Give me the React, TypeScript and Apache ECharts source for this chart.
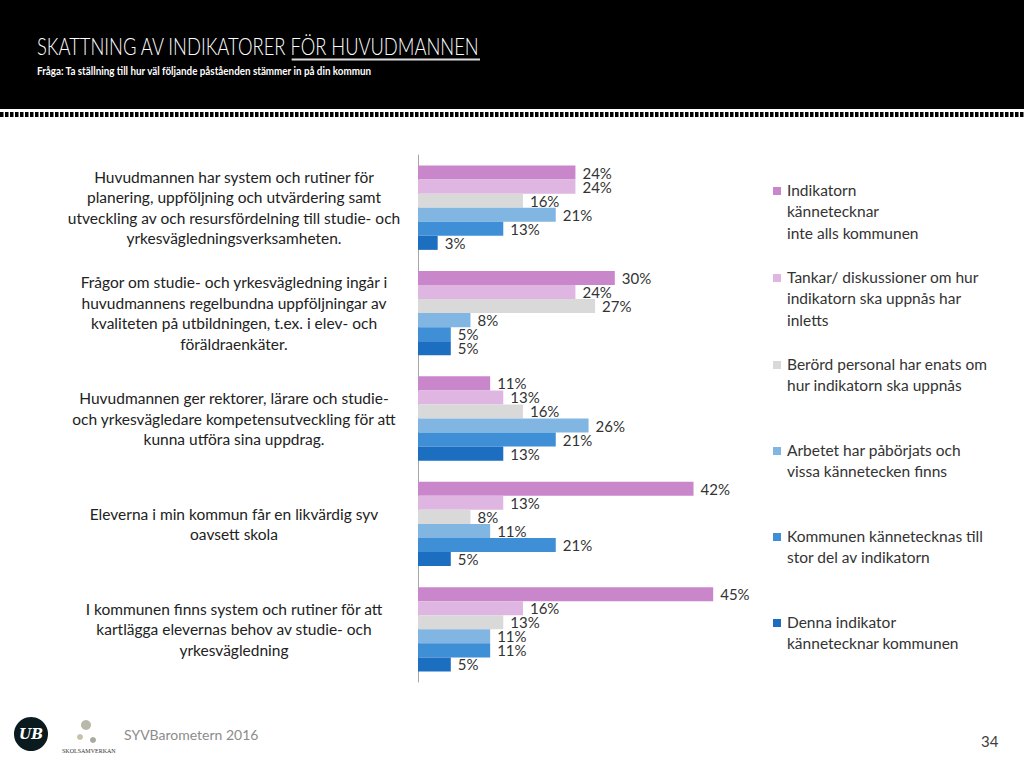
import React, { useEffect, useRef } from "react";
import * as echarts from "echarts";

const categories = [
  "Huvudmannen har system och rutiner för\nplanering, uppföljning och utvärdering samt\nutveckling av och resursfördelning till studie- och\nyrkesvägledningsverksamheten.",
  "Frågor om studie- och yrkesvägledning ingår i\nhuvudmannens regelbundna uppföljningar av\nkvaliteten på utbildningen, t.ex. i elev- och\nföräldraenkäter.",
  "Huvudmannen ger rektorer, lärare och studie-\noch yrkesvägledare kompetensutveckling för att\nkunna utföra sina uppdrag.",
  "Eleverna i min kommun får en likvärdig syv\noavsett skola",
  "I kommunen finns system och rutiner för att\nkartlägga elevernas behov av studie- och\nyrkesvägledning",
];

const seriesNames = [
  "Indikatorn\nkännetecknar\ninte alls kommunen",
  "Tankar/ diskussioner om hur\nindikatorn ska uppnås har\ninletts",
  "Berörd personal har enats om\nhur indikatorn ska uppnås",
  "Arbetet har påbörjats och\nvissa kännetecken finns",
  "Kommunen kännetecknas till\nstor del av indikatorn",
  "Denna indikator\nkännetecknar kommunen",
];

const s1 = [24, 30, 11, 42, 45];
const s2 = [24, 24, 13, 13, 16];
const s3 = [16, 27, 16, 8, 13];
const s4 = [21, 8, 26, 11, 11];
const s5 = [13, 5, 21, 21, 11];
const s6 = [3, 5, 13, 5, 5];
const seriesValues = [s1, s2, s3, s4, s5, s6];

const colors = ["#C986CB", "#DFB6E1", "#D9D9D9", "#82B6E2", "#3F8FD6", "#1C6EC1"];

const titlePlain = "SKATTNING AV INDIKATORER ";
const titleUnderlined = "FÖR HUVUDMANNEN";
const subtitle = "Fråga: Ta ställning till hur väl följande påståenden stämmer in på din kommun";
const footerText = "SYVBarometern 2016";
const pageNumber = "34";

const FONT = "Lato";

function measure(text: string, font: string): number {
  const c = document.createElement("canvas").getContext("2d");
  if (!c) return text.length * 10;
  c.font = font;
  return c.measureText(text).width;
}

export default function App() {
  const ref = useRef<HTMLDivElement>(null);
  useEffect(() => {
    if (!ref.current) return;
    const chart = echarts.init(ref.current, undefined, { renderer: "svg" });

    const titleFont = `300 24px ${FONT}`;
    const fullTitle = titlePlain + titleUnderlined;
    const titleW = measure(fullTitle, titleFont);
    const titleScale = 443 / titleW;
    const underlineStart = 37 + measure(titlePlain, titleFont) * titleScale;

    const subFont = `bold 12px ${FONT}`;
    const subScale = 335 / measure(subtitle, subFont);

    const legendGraphics: any[] = [];
    const legendTops = [179, 266, 353, 439, 525, 611];
    seriesNames.forEach((name, i) => {
      legendGraphics.push({
        type: "rect",
        left: 773,
        top: legendTops[i] + 8,
        shape: { width: 8, height: 8 },
        style: { fill: colors[i] },
      });
      legendGraphics.push({
        type: "text",
        left: 787,
        top: legendTops[i],
        style: {
          text: name,
          font: `15.5px ${FONT}`,
          fill: "#333333",
          lineHeight: 21.5,
        },
      });
    });

    chart.setOption({
      animation: false,
      grid: { left: 418, top: 155, width: 328, height: 527 },
      xAxis: {
        type: "value",
        min: 0,
        max: 50,
        show: false,
      },
      yAxis: {
        type: "category",
        data: categories,
        inverse: true,
        axisLine: { show: true, lineStyle: { color: "#A6A6A6", width: 1 } },
        axisTick: { show: false },
        axisLabel: {
          align: "center",
          margin: 184,
          fontFamily: FONT,
          fontSize: 15.5,
          color: "#222222",
          lineHeight: 20.5,
        },
      },
      series: seriesValues.map((vals, i) => ({
        type: "bar",
        name: seriesNames[i].replace(/\n/g, " "),
        data: vals,
        barGap: "0%",
        barCategoryGap: "20%",
        itemStyle: { color: colors[i] },
        label: {
          show: true,
          position: "right",
          distance: 7,
          formatter: "{c}%",
          fontFamily: FONT,
          fontSize: 15,
          lineHeight: 14,
          color: "#333333",
        },
      })),
      graphic: [
        { type: "rect", left: 0, top: 0, shape: { width: 1024, height: 109 }, style: { fill: "#000000" } },
        {
          type: "line",
          shape: { x1: 0, y1: 114.5, x2: 1024, y2: 114.5 },
          style: { stroke: "#000000", lineWidth: 5, lineDash: [3.5, 1.5] },
        },
        {
          type: "text",
          x: 37,
          y: 46,
          scaleX: titleScale,
          style: { text: fullTitle, font: titleFont, fill: "#FFFFFF", verticalAlign: "middle" },
        },
        {
          type: "rect",
          shape: { x: underlineStart, y: 58.5, width: 480 - underlineStart, height: 2 },
          style: { fill: "#DDDDDD" },
        },
        {
          type: "text",
          x: 37,
          y: 70,
          scaleX: subScale,
          style: { text: subtitle, font: subFont, fill: "#FFFFFF", verticalAlign: "middle" },
        },
        ...legendGraphics,
        { type: "circle", shape: { cx: 31, cy: 734, r: 17 }, style: { fill: "#0B1A1E" } },
        {
          type: "text",
          x: 31,
          y: 734,
          style: { text: "UB", font: `italic bold 14px "DejaVu Serif", serif`, fill: "#FFFFFF", align: "center", verticalAlign: "middle" },
        },
        {
          type: "text",
          x: 62,
          y: 748,
          style: { text: "SKOLSAMVERKAN", font: `6px "Liberation Serif", serif`, fill: "#333333" },
        },
        { type: "circle", shape: { cx: 86, cy: 725, r: 5 }, style: { fill: "#8A8A70", opacity: 0.6 } },
        { type: "circle", shape: { cx: 80, cy: 737, r: 3 }, style: { fill: "#A09A70", opacity: 0.6 } },
        { type: "circle", shape: { cx: 93, cy: 740, r: 3 }, style: { fill: "#707060", opacity: 0.6 } },
        {
          type: "text",
          left: 124,
          top: 727,
          style: { text: footerText, font: `14px ${FONT}`, fill: "#8C8C8C" },
        },
        {
          type: "text",
          left: 981,
          top: 733,
          style: { text: pageNumber, font: `15px ${FONT}`, fill: "#404040" },
        },
      ],
    });
    return () => chart.dispose();
  }, []);
  return (
    <div
      ref={ref}
      style={{ position: "fixed", left: 0, top: 0, width: 1024, height: 767, background: "#FFFFFF" }}
    />
  );
}
